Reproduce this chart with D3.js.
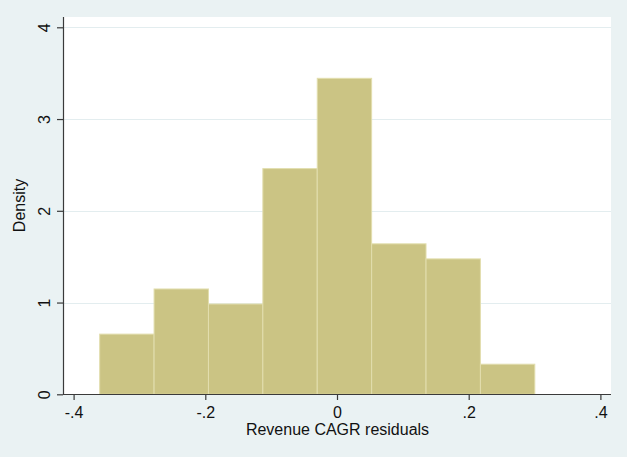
<!DOCTYPE html>
<html>
<head>
<meta charset="utf-8">
<script src="https://cdn.jsdelivr.net/npm/d3@7"></script>
<style>
  html, body { margin: 0; padding: 0; background: #EAF2F3; }
  svg { display: block; }
  text { font-family: "Liberation Sans", Arial, sans-serif; fill: #111; }
</style>
</head>
<body>
<svg id="chart" width="627" height="457"></svg>
<script>
// Histogram of revenue CAGR residuals (density scale)
const binStart = -0.3604;
const binWidth = 0.0826;
const densities = [0.656, 1.148, 0.984, 2.460, 3.444, 1.640, 1.476, 0.328];
const xTicks = [-0.4, -0.2, 0, 0.2, 0.4];
const xTickLabels = ["-.4", "-.2", "0", ".2", ".4"];
const yTicks = [0, 1, 2, 3, 4];
const yTickLabels = ["0", "1", "2", "3", "4"];
const xTitle = "Revenue CAGR residuals";
const yTitle = "Density";

const W = 627, H = 457;
const plot = { left: 63, right: 611, top: 17, bottom: 394 };

const svg = d3.select("#chart");

svg.append("rect").attr("width", W).attr("height", H).attr("fill", "#EAF2F3");

// x scale: -.4 at 73.6, .4 at 600
const x = d3.scaleLinear().domain([-0.4, 0.4]).range([73.6, 600.4]);
const y = d3.scaleLinear().domain([0, 4]).range([394.3, 27.3]);

// plot region
svg.append("rect")
  .attr("x", plot.left).attr("y", plot.top)
  .attr("width", plot.right - plot.left).attr("height", plot.bottom - plot.top)
  .attr("fill", "#FFFFFF");

// horizontal gridlines
svg.append("g").selectAll("line")
  .data(yTicks.filter(d => d > 0))
  .join("line")
  .attr("x1", plot.left).attr("x2", plot.right)
  .attr("y1", d => Math.round(y(d)) + 0.5).attr("y2", d => Math.round(y(d)) + 0.5)
  .attr("stroke", "#E3EDEF").attr("stroke-width", 1.2);

// bars
const bins = densities.map((d, i) => ({
  x0: binStart + i * binWidth,
  x1: binStart + (i + 1) * binWidth,
  value: d
}));

svg.append("g").selectAll("rect")
  .data(bins)
  .join("rect")
  .attr("x", d => x(d.x0))
  .attr("width", d => x(d.x1) - x(d.x0))
  .attr("y", d => y(d.value))
  .attr("height", d => y(0) - y(d.value))
  .attr("fill", "#CBC484")
  .attr("stroke", "#E2DEAE")
  .attr("stroke-width", 1);

// x axis
const xAxis = d3.axisBottom(x)
  .tickValues(xTicks)
  .tickFormat((d, i) => xTickLabels[i])
  .tickSize(6)
  .tickPadding(7)
  .tickSizeOuter(0);

const gx = svg.append("g")
  .attr("transform", `translate(0,${plot.bottom})`)
  .call(xAxis);
gx.select(".domain").remove();
gx.append("line")
  .attr("x1", plot.left).attr("x2", plot.right)
  .attr("y1", 0.5).attr("y2", 0.5)
  .attr("stroke", "#3A3A3A").attr("stroke-width", 1.2);
gx.selectAll(".tick line").attr("stroke", "#3A3A3A").attr("stroke-width", 1.2);
gx.selectAll(".tick text")
  .attr("font-size", 16)
  .attr("font-family", "Liberation Sans, Arial, sans-serif")
  .attr("fill", "#111");

// y axis
const yAxis = d3.axisLeft(y)
  .tickValues(yTicks)
  .tickFormat((d, i) => yTickLabels[i])
  .tickSize(6)
  .tickSizeOuter(0);

const gy = svg.append("g")
  .attr("transform", `translate(${plot.left},0)`)
  .call(yAxis);
gy.select(".domain").remove();
gy.append("line")
  .attr("x1", 0.5).attr("x2", 0.5)
  .attr("y1", plot.top).attr("y2", plot.bottom + 0.5)
  .attr("stroke", "#3A3A3A").attr("stroke-width", 1.2);
gy.selectAll(".tick line").attr("stroke", "#3A3A3A").attr("stroke-width", 1.2);
gy.selectAll(".tick text")
  .attr("font-size", 16)
  .attr("font-family", "Liberation Sans, Arial, sans-serif")
  .attr("fill", "#111")
  .attr("x", null).attr("dy", null)
  .attr("text-anchor", "middle")
  .attr("transform", "translate(-13,0) rotate(-90)");

// axis titles
svg.append("text")
  .attr("x", x(0) + 0.5).attr("y", 435)
  .attr("text-anchor", "middle")
  .attr("font-size", 16)
  .text(xTitle);

svg.append("text")
  .attr("transform", `translate(25,${(plot.top + plot.bottom) / 2}) rotate(-90)`)
  .attr("text-anchor", "middle")
  .attr("font-size", 16)
  .text(yTitle);
</script>
</body>
</html>
